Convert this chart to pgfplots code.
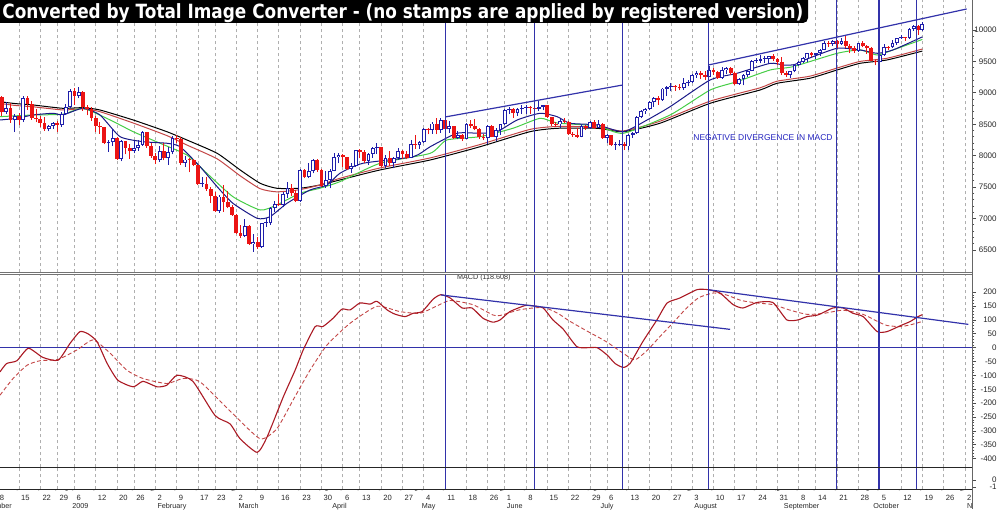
\documentclass[border=0pt]{standalone}
\usepackage{fontspec}
\setmainfont{Liberation Sans}
\newfontfamily\bannerfont{DejaVu Sans}
\usepackage{graphicx}
\usepackage{pgfplots}
\pgfplotsset{compat=1.18}
\usepackage{pgfplotstable}

\definecolor{cblue}{RGB}{30,30,170}
\definecolor{cred}{RGB}{235,20,20}
\definecolor{lineblue}{RGB}{50,50,170}
\definecolor{mablue}{RGB}{25,25,135}
\definecolor{magreen}{RGB}{70,205,70}
\definecolor{mared}{RGB}{195,70,70}
\definecolor{macdred}{RGB}{170,25,35}
\definecolor{gridgray}{RGB}{175,175,175}
\definecolor{txtblue}{RGB}{35,35,190}

\pgfplotstableread{
t o c u d
0 8635 8934 30 40
1 8934 8691 20 60
2 8691 8761 90 30
3 8761 8565 70 40
4 8565 8629 30 190
5 8629 8564 50 80
6 8564 8924 20 30
7 8924 8824 30 90
8 8824 8604 40 30
9 8604 8579 140 50
10 8579 8519 50 70
11 8519 8419 90 20
12 8419 8468 20 30
13 8468 8515 20 40
14 8515 8483 40 100
15 8483 8668 20 20
16 8668 8776 50 20
17 8776 9034 30 20
18 9034 8953 40 150
19 8953 9015 70 40
20 9015 8769 20 50
21 8769 8742 30 100
22 8742 8599 40 40
23 8599 8474 30 90
24 8474 8449 70 100
25 8449 8200 10 20
26 8200 8212 40 140
27 8212 8281 140 60
28 8281 7949 10 20
29 7949 8228 20 40
30 8228 8123 10 100
31 8123 8077 70 130
32 8077 8117 110 40
33 8117 8175 70 40
34 8175 8375 20 20
35 8375 8150 10 20
36 8150 8001 50 30
37 8001 7936 40 70
38 7936 8078 80 40
39 8078 7957 120 30
40 7957 8063 80 100
41 8063 8281 30 40
42 8281 8270 50 60
43 8270 7888 20 30
44 7888 7939 60 60
45 7939 7933 20 200
46 7933 7850 20 20
47 7850 7553 10 20
48 7553 7556 100 50
49 7556 7466 100 20
50 7466 7365 30 120
51 7365 7115 50 10
52 7115 7351 20 20
53 7351 7271 180 160
54 7271 7183 170 20
55 7183 7063 30 20
56 7063 6763 10 10
57 6763 6726 140 30
58 6726 6876 110 20
59 6876 6594 20 10
60 6594 6627 130 120
61 6627 6547 80 30
62 6547 6926 10 10
63 6926 6930 80 60
64 6930 7170 10 30
65 7170 7224 60 60
66 7224 7217 170 20
67 7217 7395 20 40
68 7395 7487 90 60
69 7487 7400 70 40
70 7400 7279 60 20
71 7279 7776 10 10
72 7776 7660 10 20
73 7660 7750 140 20
74 7750 7924 20 30
75 7924 7776 20 30
76 7776 7523 10 20
77 7523 7609 150 30
78 7609 7761 30 130
79 7761 7978 60 10
80 7978 8018 20 100
81 8018 7975 10 150
82 7975 7790 10 20
83 7790 7837 50 60
84 7837 8083 10 20
85 8083 8058 30 100
86 8058 7921 30 30
87 7921 8030 10 70
88 8030 8125 20 60
89 8125 8131 70 90
90 8131 7842 10 20
91 7842 7970 40 40
92 7970 7887 110 50
93 7887 7957 20 90
94 7957 8076 40 20
95 8076 8026 20 80
96 8026 7970 50 30
97 7970 8185 70 10
98 8185 8168 140 60
99 8168 8213 20 60
100 8213 8427 20 10
101 8427 8410 20 70
102 8410 8512 20 60
103 8512 8409 80 70
104 8409 8575 20 40
105 8575 8418 10 50
106 8418 8469 80 50
107 8469 8285 10 20
108 8285 8332 60 20
109 8332 8268 20 30
110 8268 8504 10 10
111 8504 8475 70 40
112 8475 8423 110 20
113 8423 8292 20 30
114 8292 8277 60 30
115 8277 8474 10 90
116 8474 8300 20 10
117 8300 8404 30 70
118 8404 8500 10 70
119 8500 8721 20 10
120 8721 8741 40 60
121 8741 8676 10 70
122 8676 8750 10 40
123 8750 8764 50 80
124 8764 8764 50 100
125 8764 8763 30 100
126 8763 8740 70 80
127 8740 8770 100 30
128 8770 8799 10 50
129 8799 8613 10 10
130 8613 8504 10 30
131 8504 8497 40 40
132 8497 8555 30 50
133 8555 8540 50 20
134 8540 8339 10 10
135 8339 8323 40 20
136 8323 8300 120 20
137 8300 8472 30 10
138 8472 8438 10 30
139 8438 8529 30 10
140 8529 8447 40 20
141 8447 8504 60 10
142 8504 8280 10 10
143 8280 8324 20 80
144 8324 8163 10 10
145 8163 8179 40 70
146 8179 8183 60 30
147 8183 8147 40 60
148 8147 8332 10 60
149 8332 8360 20 50
150 8360 8616 10 10
151 8616 8711 20 20
152 8711 8743 20 40
153 8743 8848 20 20
154 8848 8916 20 70
155 8916 8882 30 70
156 8882 9069 10 10
157 9069 9093 20 120
158 9093 9108 50 70
159 9108 9096 20 60
160 9096 9070 50 30
161 9070 9154 80 20
162 9154 9172 40 50
163 9172 9286 20 10
164 9286 9320 20 50
165 9320 9280 30 60
166 9280 9256 70 50
167 9256 9370 60 10
168 9370 9338 20 50
169 9338 9242 10 20
170 9242 9362 50 20
171 9362 9398 20 60
172 9398 9321 10 30
173 9321 9136 10 10
174 9136 9218 20 10
175 9218 9280 20 100
176 9280 9350 20 30
177 9350 9506 10 10
178 9506 9510 50 30
179 9510 9540 60 40
180 9540 9544 40 70
181 9544 9581 10 90
182 9581 9545 40 40
183 9545 9496 10 50
184 9496 9310 70 20
185 9310 9280 30 30
186 9280 9345 10 40
187 9345 9442 10 20
188 9442 9497 10 10
189 9497 9547 20 30
190 9547 9627 10 60
191 9627 9606 30 40
192 9606 9627 10 60
193 9627 9684 10 40
194 9684 9792 30 10
195 9792 9784 40 50
196 9784 9821 20 40
197 9821 9779 20 60
198 9779 9830 40 20
199 9830 9749 90 30
200 9749 9708 30 80
201 9708 9666 40 30
202 9666 9790 10 10
203 9790 9742 30 20
204 9742 9712 20 90
205 9712 9509 10 10
206 9509 9488 20 50
207 9488 9600 30 20
208 9600 9732 50 10
209 9732 9725 10 40
210 9725 9786 50 10
211 9786 9865 10 20
212 9865 9885 40 10
213 9885 9871 10 50
214 9871 10016 10 10
215 10016 10063 10 30
216 10063 9996 10 70
217 9996 10093 30 20
}\candles

\tikzset{
  vline/.style={lineblue, line width=0.6pt},
  tline/.style={lineblue, line width=0.6pt},
}
\pgfplotsset{
  panel/.style={
    scale only axis, width=486pt, anchor=south west,
    xmin=0.54, xmax=228.65,
    axis x line*=bottom, axis y line*=right,
    axis line style={draw=none},
    xtick={5,10,14,18,23,28,32,37,42,47,51,56,61,66,71,76,81,85,90,95,100,105,110,115,119,124,129,134,139,143,148,153,158,163,168,173,178,183,188,192,197,202,207,212,217,222,227},
    xticklabels={},
    xtick style={draw=none},
    xmajorgrids,
    major grid style={draw=gridgray, line width=0.45pt, dash pattern=on 1.5pt off 1.5pt},
    tick align=outside, major tick length=2pt, minor tick length=1.2pt,
    ytick style={draw=black!70, line width=0.4pt},
    yticklabel style={font=\fontsize{4}{5}\selectfont, anchor=east, inner sep=0pt, xshift=10.5pt, text=black!85},
  },
  malin/.style={line width=0.5pt, smooth, tension=0.35, mark=none},
  cdl/.style={draw=none, mark=none, forget plot},
}

\begin{document}
\begin{tikzpicture}
\useasboundingbox (0,0) rectangle (500pt,254.5pt);

% ---------------- price panel
\begin{axis}[panel, at={(0pt,118.25pt)}, height=136.25pt,
  ymin=6142, ymax=10477,
  ytick={6500,7000,...,10000},
  yticklabels={6500,7000,7500,8000,8500,9000,9500,10000},
  minor y tick num=4]

\addplot[malin, black] coordinates {(0.54,8859) (4,8830) (8.3,8807) (15.3,8754) (20,8764) (24,8727) (31.8,8568) (39.7,8382) (44.4,8250) (51.5,8038) (56.9,7773) (61.6,7561) (65.5,7482) (70.9,7482) (75.6,7534) (80.3,7614) (89.7,7773) (101.5,7932) (113.2,8143) (124.9,8382) (131.3,8436) (140.7,8436) (146.8,8382) (155.4,8516) (167.2,8834) (178.9,9045) (182.9,9152) (190.6,9232) (197,9364) (202.4,9470) (208.7,9523) (217,9665)};
\addplot[malin, mared] coordinates {(0.54,8832) (4,8800) (8.3,8778) (15.3,8728) (20,8745) (24,8700) (31.8,8520) (39.7,8320) (44.4,8170) (51.5,7950) (56.9,7680) (61.6,7475) (65.5,7425) (70.9,7460) (75.6,7534) (80.3,7640) (89.7,7805) (101.5,7965) (113.2,8178) (124.9,8418) (131.3,8465) (140.7,8455) (146.8,8395) (155.4,8548) (167.2,8868) (178.9,9080) (182.9,9185) (190.6,9265) (197,9395) (202.4,9500) (208.7,9550) (217,9697)};
\addplot[malin, magreen] coordinates {(0.54,8621) (8.3,8648) (15.3,8660) (20,8754) (26.4,8568) (31.8,8382) (38.1,8198) (44.4,8011) (49.1,7720) (55.2,7348) (61.6,7136) (65.5,7216) (70.9,7402) (75.6,7482) (80.3,7587) (89.7,7879) (101.5,8038) (105.4,8250) (113.2,8303) (120.9,8436) (127.3,8595) (131.3,8520) (140.7,8473) (146.8,8357) (157.8,8648) (167.2,9045) (173.5,9178) (181.3,9364) (186.6,9416) (197,9629) (202.4,9682) (206.4,9602) (210.1,9682) (217,9850)};
\addplot[malin, mablue] coordinates {(0.54,8568) (4.5,8595) (8.3,8648) (13,8675) (15.3,8648) (20,8754) (24,8648) (28.7,8303) (34.1,8223) (39.7,8198) (42.8,8143) (47.5,7825) (51.5,7507) (55.2,7243) (60.9,7004) (63.9,7030) (67.9,7243) (73.3,7455) (77.3,7534) (80.3,7720) (85.7,7879) (97.5,7984) (101.5,8143) (107.8,8357) (113.2,8357) (117.2,8382) (121.9,8568) (127.3,8675) (131.3,8621) (134.3,8516) (140.7,8489) (146.8,8382) (152.4,8568) (157.8,8780) (167.2,9205) (173.5,9311) (181.3,9470) (184.5,9440) (187,9450) (190,9540) (197,9709) (202.4,9682) (206.4,9629) (210.1,9682) (217,9890)};

% wicks
\addplot[cdl,
  error bars/.cd, y dir=plus, y explicit, error mark=none,
  error bar style={draw=cblue, line width=0.5pt}]
  table[x=t, y expr={\thisrow{c}>=\thisrow{o} ? \thisrow{o}-\thisrow{d} : nan},
        y error plus expr={\thisrow{c}-\thisrow{o}+\thisrow{u}+\thisrow{d}}] {\candles};
\addplot[cdl,
  error bars/.cd, y dir=plus, y explicit, error mark=none,
  error bar style={draw=cred, line width=0.5pt}]
  table[x=t, y expr={\thisrow{c}<\thisrow{o} ? \thisrow{c}-\thisrow{d} : nan},
        y error plus expr={\thisrow{o}-\thisrow{c}+\thisrow{u}+\thisrow{d}}] {\candles};
% bodies
\addplot[cdl,
  error bars/.cd, y dir=plus, y explicit, error mark=none,
  error bar style={draw=cblue, line width=1.9pt}]
  table[x=t, y expr={\thisrow{c}>=\thisrow{o} ? \thisrow{o} : nan},
        y error plus expr={max(\thisrow{c}-\thisrow{o},12)}] {\candles};
\addplot[cdl,
  error bars/.cd, y dir=plus, y explicit, error mark=none,
  error bar style={draw=white, line width=0.9pt}]
  table[x=t, y expr={\thisrow{c}>=\thisrow{o} ? \thisrow{o}+15 : nan},
        y error plus expr={max(\thisrow{c}-\thisrow{o}-30,0)}] {\candles};
\addplot[cdl,
  error bars/.cd, y dir=plus, y explicit, error mark=none,
  error bar style={draw=cred, line width=1.9pt}]
  table[x=t, y expr={\thisrow{c}<\thisrow{o} ? \thisrow{c} : nan},
        y error plus expr={max(\thisrow{o}-\thisrow{c},12)}] {\candles};

% trend lines
\addplot[tline] coordinates {(105,8616) (146.7,9125)};
\addplot[tline] coordinates {(166.8,9443) (227.4,10334)};
\pgfplotsinvokeforeach{105,125.9,146.7,166.8,196.9,206.8,215.7}{
  \draw[vline] (axis cs:#1,6142) -- (axis cs:#1,10477);}
\node[font=\fontsize{4.25}{5}\selectfont, text=txtblue] at (axis cs:179.6,8282) {NEGATIVE DIVERGENCE IN MACD};
\end{axis}

% ---------------- MACD panel
\begin{axis}[panel, at={(0pt,20.85pt)}, height=96.4pt,
  ymin=-430.7, ymax=263.6,
  ytick={-400,-350,...,200},
  yticklabels={-400,-350,-300,-250,-200,-150,-100,-50,0,50,100,150,200},
  minor y tick num=4]
\draw[vline] (axis cs:0.54,0) -- (axis cs:228.65,0);
\addplot[mared, line width=0.45pt, dash pattern=on 2pt off 1.2pt, smooth, tension=0.35] coordinates {(0.54,-171) (3.6,-111) (6.9,-63) (9.9,-47) (14.2,-42) (18.6,-8) (22.4,28) (26.4,-20) (30.3,-81) (34.1,-111) (39.7,-129) (43.5,-111) (47.5,-123) (55.2,-238) (61.6,-328) (65.5,-292) (69.3,-189) (73.3,-81) (77.3,10) (82.7,88) (89,149) (94.4,130) (99.1,124) (103,150) (106.2,170) (111.5,155) (116.2,118) (117.9,116) (122.6,137) (128,145) (131.3,125) (134.3,95) (138.3,60) (140.7,40) (143,20) (146.8,-20) (149.5,-44) (152.4,-10) (155.4,40) (158.5,90) (161.5,140) (164.5,180) (168,197) (171,190) (174.5,170) (178.2,161) (182,155) (186,135) (190,120) (194,124) (198.4,135) (203.1,120) (206.4,95) (208.7,80) (211.8,76) (214.1,82) (216,90) (217,95)};
\addplot[macdred, line width=0.55pt, smooth, tension=0.35] coordinates {(0.54,-87) (2.1,-57) (4.5,-47) (7.2,-2) (10.6,-35) (14.2,-45) (17,16) (19.3,58) (21.2,50) (23.3,22) (25.7,-57) (28.2,-117) (31.8,-141) (34.1,-121) (37.4,-141) (39.7,-135) (42.1,-99) (45.8,-121) (51,-244) (54.5,-274) (56.9,-328) (60.9,-377) (63.2,-322) (67,-178) (69.8,-81) (71.7,-8) (74.5,76) (76.3,76) (78.7,106) (80.8,139) (82.7,136) (85,161) (87.4,157) (89,167) (91.4,136) (93.2,121) (95.6,112) (97.5,124) (99.6,130) (102.2,175) (104,191) (106.2,179) (109,143) (111.3,143) (113.9,106) (116.2,92) (117.9,100) (120.2,130) (123.8,152) (125.6,151) (128,143) (130.3,100) (132.7,67) (135.9,4) (138.3,0) (140.7,0) (143,-26) (144.9,-57) (146.8,-71) (148.4,-57) (151.4,22) (154.7,100) (157.1,161) (160.1,179) (164.1,209) (166.7,209) (169.5,197) (172.6,155) (174.9,143) (178.2,163) (181.9,163) (185.2,100) (187.8,100) (189.9,112) (192.5,118) (196,143) (198.4,143) (200.7,124) (203.1,112) (206.4,58) (208.7,58) (211.8,79) (214.1,94) (216,112) (217,119)};
\addplot[tline] coordinates {(104,190) (171.9,66)};
\addplot[tline] coordinates {(166.7,209) (227.8,84)};
\pgfplotsinvokeforeach{105,125.9,146.7,166.8,196.9,206.8,215.7}{
  \draw[vline] (axis cs:#1,-430.7) -- (axis cs:#1,263.6);}
\node[font=\fontsize{3.6}{4}\selectfont, text=black!80] at (axis cs:114.1,251) {MACD (118.608)};
\end{axis}

% ---------------- small bottom panel + dates
\begin{axis}[panel, at={(0pt,9.85pt)}, height=11pt,
  ymin=-1.33, ymax=1.81, ytick={-1,0}, yticklabels={-1,0},
  clip=false,
  xticklabels={15,22,29,6,12,20,26,2,9,17,23,2,9,16,23,30,6,13,20,27,4,11,18,26,1,8,15,22,29,6,13,20,27,3,10,17,24,31,8,14,21,28,5,12,19,26,2},
  xticklabel style={font=\fontsize{3.8}{4.5}\selectfont, anchor=base west, inner sep=0pt, xshift=0.9pt, yshift=-3.35pt, text=black!85}]
\pgfplotsinvokeforeach{105,125.9,146.7,166.8,196.9,206.8,215.7}{
  \draw[vline] (axis cs:#1,-1.33) -- (axis cs:#1,1.81);}
\pgfplotsinvokeforeach{0,5,10,14,18,23,28,32,37,42,47,51,56,61,66,71,76,81,85,90,95,100,105,110,115,119,124,129,134,139,143,148,153,158,163,168,173,178,183,188,192,197,202,207,212,217,222,227}{
  \draw[black!70, line width=0.4pt] (axis cs:#1,-1.33) -- ++(0,-5pt);}
\pgfplotsinvokeforeach{-5,17,37,56,78,99,119,141,163,184,205,227}{
  \draw[black!70, line width=0.4pt] (axis cs:#1,-1.33) ++(0,-5pt) -- ++(0,-4.85pt);}
\node[font=\fontsize{3.8}{4.5}\selectfont, anchor=base west, inner sep=0pt, xshift=0.9pt, yshift=-5.35pt, text=black!85] at (axis cs:0,-1.33) {8};
\begin{scope}[every node/.style={font=\fontsize{3.6}{4.5}\selectfont, anchor=base west, inner sep=0pt, xshift=0.9pt, yshift=-9.35pt, text=black!85}]
\node at (axis cs:-5,-1.33) {December};
\node at (axis cs:17,-1.33) {2009};
\node at (axis cs:37,-1.33) {February};
\node at (axis cs:56,-1.33) {March};
\node at (axis cs:78,-1.33) {April};
\node at (axis cs:99,-1.33) {May};
\node at (axis cs:119,-1.33) {June};
\node at (axis cs:141,-1.33) {July};
\node at (axis cs:163,-1.33) {August};
\node at (axis cs:184,-1.33) {September};
\node at (axis cs:205,-1.33) {October};
\node at (axis cs:227,-1.33) {N};
\end{scope}
\end{axis}

% ---------------- frame lines
\draw[black!60, line width=0.5pt] (486pt,0pt) -- (486pt,254.5pt);
\draw[black!55, line width=0.5pt] (0pt,118.25pt) -- (486pt,118.25pt);
\draw[black!55, line width=0.5pt] (0pt,117.25pt) -- (486pt,117.25pt);
\draw[black!85, line width=0.5pt] (0pt,20.85pt) -- (486pt,20.85pt);
\draw[black!85, line width=0.5pt] (0pt,9.85pt) -- (486pt,9.85pt);

% ---------------- banner
\fill[black, rounded corners=2.5pt] (-5pt,243pt) rectangle (404pt,260pt);
\node[anchor=base west, inner sep=0pt, text=white] at (1pt,245.4pt)
  {\resizebox{400.5pt}{\height}{\bannerfont\bfseries\fontsize{9.8}{11}\selectfont Converted by Total Image Converter - (no stamps are applied by registered version)}};
\end{tikzpicture}
\end{document}
